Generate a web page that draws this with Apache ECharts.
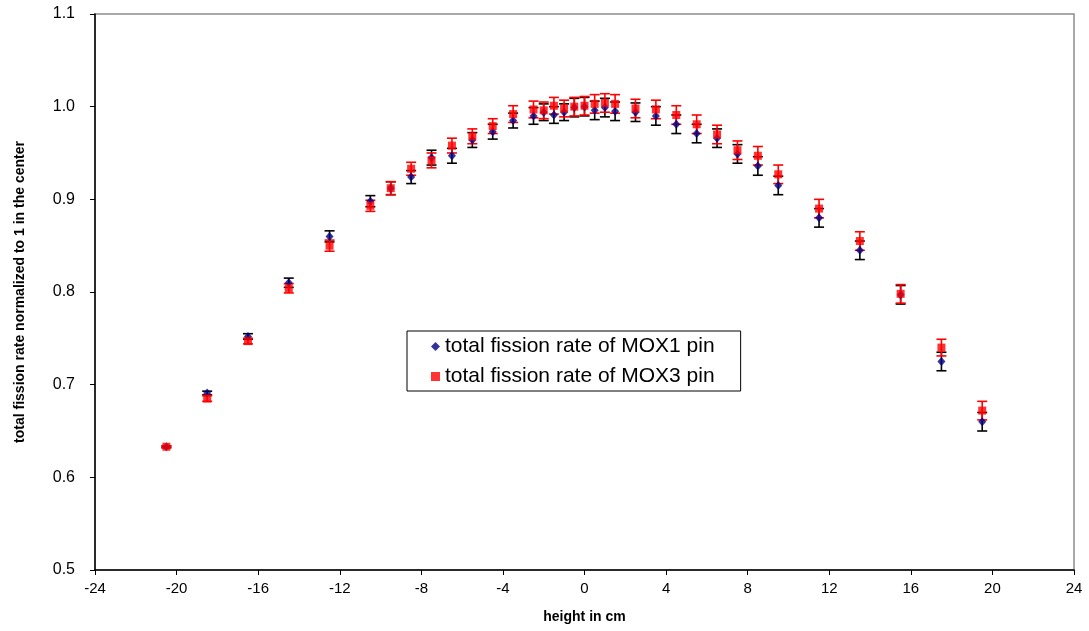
<!DOCTYPE html>
<html>
<head>
<meta charset="utf-8">
<script src="https://cdn.jsdelivr.net/npm/echarts@6/dist/echarts.min.js"></script>
<style>
  html, body { margin: 0; padding: 0; background: #fff; }
  #chart { width: 1089px; height: 631px; }
</style>
</head>
<body>
<div id="chart"></div>
<script>
// Axial positions of the measurements (cm from the core mid-plane)
const heights = [-20.5, -18.5, -16.5, -14.5, -12.5, -10.5, -9.5, -8.5, -7.5, -6.5,
  -5.5, -4.5, -3.5, -2.5, -2, -1.5, -1, -0.5, 0, 0.5, 1, 1.5, 2.5, 3.5, 4.5,
  5.5, 6.5, 7.5, 8.5, 9.5, 11.5, 13.5, 15.5, 17.5, 19.5];

// Total fission rate, normalised to 1 at the centre
const mox1 = [0.633, 0.691, 0.752, 0.810, 0.860, 0.898, 0.912, 0.924, 0.945, 0.947,
  0.964, 0.973, 0.985, 0.990, 0.994, 0.991, 0.994, 0.999, 1.000, 0.996, 0.999, 0.995,
  0.994, 0.990, 0.981, 0.971, 0.966, 0.949, 0.936, 0.915, 0.880, 0.845, 0.797, 0.725, 0.660];
const mox3 = [0.633, 0.685, 0.747, 0.804, 0.850, 0.893, 0.912, 0.933, 0.942, 0.958,
  0.968, 0.979, 0.992, 0.997, 0.996, 1.001, 0.998, 1.000, 1.001, 1.003, 1.004, 1.003,
  0.998, 0.997, 0.991, 0.981, 0.970, 0.953, 0.947, 0.927, 0.890, 0.855, 0.798, 0.740, 0.672];

// Measurement uncertainties (absolute, +/-)
const mox1Err = [0.001, 0.002, 0.003, 0.005, 0.006, 0.006, 0.007, 0.007, 0.008, 0.008,
  0.008, 0.008, 0.008, 0.009, 0.009, 0.009, 0.009, 0.010, 0.010, 0.010, 0.010, 0.010,
  0.010, 0.010, 0.010, 0.010, 0.010, 0.010, 0.010, 0.010, 0.010, 0.010, 0.010, 0.010, 0.010];
const mox3Err = [0.001, 0.003, 0.003, 0.005, 0.006, 0.006, 0.007, 0.007, 0.008, 0.008,
  0.008, 0.008, 0.009, 0.009, 0.009, 0.009, 0.009, 0.010, 0.010, 0.010, 0.010, 0.010,
  0.010, 0.010, 0.010, 0.010, 0.010, 0.010, 0.010, 0.010, 0.010, 0.010, 0.010, 0.009, 0.010];

const xTicks = [-24, -20, -16, -12, -8, -4, 0, 4, 8, 12, 16, 20, 24];
const yTicks = [0.5, 0.6, 0.7, 0.8, 0.9, 1.0, 1.1];

const FONT = '"Liberation Sans", Arial, sans-serif';

function points(vals) { return heights.map((h, i) => [h, vals[i]]); }
function bars(vals, errs) { return heights.map((h, i) => [h, vals[i] - errs[i], vals[i] + errs[i]]); }

function errorBarSeries(name, data, color) {
  return {
    name: name,
    type: 'custom',
    data: data,
    silent: true,
    renderItem: function (params, api) {
      const lo = api.coord([api.value(0), api.value(1)]);
      const hi = api.coord([api.value(0), api.value(2)]);
      const w = 5;
      const style = { stroke: color, lineWidth: 1.6 };
      return {
        type: 'group',
        children: [
          { type: 'line', shape: { x1: lo[0], y1: lo[1], x2: hi[0], y2: hi[1] }, style: style },
          { type: 'line', shape: { x1: lo[0] - w, y1: lo[1], x2: lo[0] + w, y2: lo[1] }, style: style },
          { type: 'line', shape: { x1: hi[0] - w, y1: hi[1], x2: hi[0] + w, y2: hi[1] }, style: style }
        ]
      };
    },
    encode: { x: 0, y: [1, 2] },
    z: 2
  };
}

const chart = echarts.init(document.getElementById('chart'), null, { renderer: 'canvas' });

chart.setOption({
  animation: false,
  backgroundColor: '#ffffff',
  textStyle: { fontFamily: FONT },
  grid: {
    left: 95, right: 15, top: 14, bottom: 61,
    show: true, borderColor: '#8c8c8c', borderWidth: 1.5, backgroundColor: 'transparent'
  },
  legend: {
    left: 407, top: 331,
    orient: 'vertical',
    backgroundColor: '#ffffff',
    borderColor: '#000000', borderWidth: 1,
    padding: [5, 26, 4, 24],
    itemGap: 9,
    itemWidth: 9, itemHeight: 9,
    textStyle: { fontFamily: FONT, fontSize: 21, color: '#000' },
    data: [
      { name: 'total fission rate of MOX1 pin', icon: 'diamond' },
      { name: 'total fission rate of MOX3 pin', icon: 'rect' }
    ]
  },
  xAxis: {
    type: 'value',
    min: xTicks[0], max: xTicks[xTicks.length - 1], interval: 4,
    name: 'height in cm',
    nameLocation: 'middle', nameGap: 40,
    nameTextStyle: { fontFamily: FONT, fontSize: 14, fontWeight: 'bold', color: '#000' },
    axisLine: { onZero: false, lineStyle: { color: '#000', width: 1.5 } },
    axisTick: { show: true, inside: false, length: 5, lineStyle: { color: '#000' } },
    axisLabel: { fontFamily: FONT, fontSize: 15, color: '#000', margin: 11 },
    splitLine: { show: false }
  },
  yAxis: {
    type: 'value',
    min: yTicks[0], max: yTicks[yTicks.length - 1], interval: 0.1,
    name: 'total fission rate normalized to 1 in the center',
    nameLocation: 'middle', nameGap: 68,
    nameTextStyle: { fontFamily: FONT, fontSize: 14, fontWeight: 'bold', color: '#000' },
    axisLine: { onZero: false, lineStyle: { color: '#000', width: 1.5 } },
    axisTick: { show: true, inside: false, length: 5, lineStyle: { color: '#000' } },
    axisLabel: {
      fontFamily: FONT, fontSize: 16, color: '#000', margin: 20,
      formatter: v => v.toFixed(1)
    },
    splitLine: { show: false }
  },
  series: [
    errorBarSeries('MOX1 uncertainty', bars(mox1, mox1Err), '#000000'),
    {
      name: 'total fission rate of MOX1 pin',
      type: 'scatter',
      symbol: 'diamond', symbolSize: [8, 9],
      itemStyle: { color: '#000080' },
      data: points(mox1),
      z: 3
    },
    errorBarSeries('MOX3 uncertainty', bars(mox3, mox3Err), '#ff0000'),
    {
      name: 'total fission rate of MOX3 pin',
      type: 'scatter',
      symbol: 'rect', symbolSize: 8,
      itemStyle: { color: '#ff0000' },
      data: points(mox3),
      z: 4
    }
  ]
});
</script>
</body>
</html>
